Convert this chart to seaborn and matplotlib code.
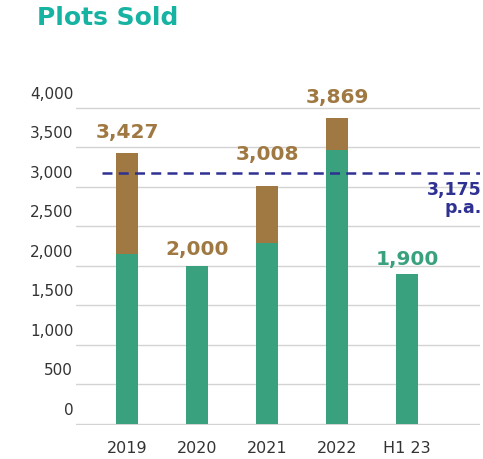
import numpy as np
import pandas as pd
import seaborn as sns
import matplotlib.pyplot as plt
import matplotlib.transforms as mtransforms

# Plots sold per period (total), with the green (base) share
periods = ["2019", "2020", "2021", "2022", "H1 23"]
totals = [3427, 2000, 3008, 3869, 1900]
base = [2150, 2000, 2290, 3460, 1900]
label_colors = ["brown", "brown", "brown", "brown", "green"]
avg_pa = 3175
yticks = [0, 500, 1000, 1500, 2000, 2500, 3000, 3500, 4000]

GREEN = "#3AA17E"
BROWN = "#A07842"
NAVY = "#2E3192"
TEAL = "#17B3A2"

sns.set_theme(style="white")
plt.rcParams["font.family"] = ["DejaVu Sans"]

df = pd.DataFrame({"period": periods, "total": totals, "base": base})

fig = plt.figure(figsize=(4.83, 4.59), dpi=100)
ax = fig.add_axes([76 / 483, 34.4 / 459, 404 / 483, 340.6 / 459])

sns.barplot(data=df, x="period", y="total", color=BROWN, width=0.313,
            saturation=1, linewidth=0, ax=ax)
sns.barplot(data=df, x="period", y="base", color=GREEN, width=0.313,
            saturation=1, linewidth=0, ax=ax)

ax.set_ylim(-8, 4300)
ax.set_xlim(-0.73, 5.04)
ax.set_yticks(yticks)
ax.set_yticklabels([f"{v:,}" for v in yticks])
ax.set_xlabel("")
ax.set_ylabel("")
ax.grid(axis="y", color="#D3D3D3", linewidth=1)
ax.set_axisbelow(True)
for s in ax.spines.values():
    s.set_visible(False)
ax.tick_params(axis="y", length=0, pad=2, labelsize=11, labelcolor="#333333")
ax.tick_params(axis="x", length=0, pad=12, labelsize=11.5, labelcolor="#333333")

# y labels sit a little above their gridlines in the original
shift = mtransforms.ScaledTranslation(0, 0.15, fig.dpi_scale_trans)
for lab in ax.get_yticklabels():
    lab.set_transform(lab.get_transform() + shift)

# value labels
offsets = [15, 12, 23, 14.5, 10]
for i, (v, c, off) in enumerate(zip(totals, label_colors, offsets)):
    ax.annotate(f"{v:,}", (i, v), xytext=(0, off), textcoords="offset points",
                ha="center", va="center", fontsize=14.5, fontweight="bold",
                color=BROWN if c == "brown" else GREEN)

# average line
ax.axhline(avg_pa, xmin=0.37 / 5.77, xmax=1.0, color=NAVY, linewidth=1.8,
           linestyle=(0, (4, 2.5)))
blend = mtransforms.blended_transform_factory(ax.transAxes, ax.transData)
ax.annotate(f"{avg_pa:,}", (1.005, avg_pa), xycoords=blend, xytext=(0, -12),
            textcoords="offset points", ha="right", va="center",
            fontsize=12.5, fontweight="bold", color=NAVY)
ax.annotate("p.a.", (1.005, avg_pa), xycoords=blend, xytext=(0, -25),
            textcoords="offset points", ha="right", va="center",
            fontsize=12.5, fontweight="bold", color=NAVY)

fig.text(37 / 483, 1 - 18 / 459, "Plots Sold", ha="left", va="center",
         fontsize=18, fontweight="bold", color=TEAL)

fig.savefig("out.png", dpi=100)
